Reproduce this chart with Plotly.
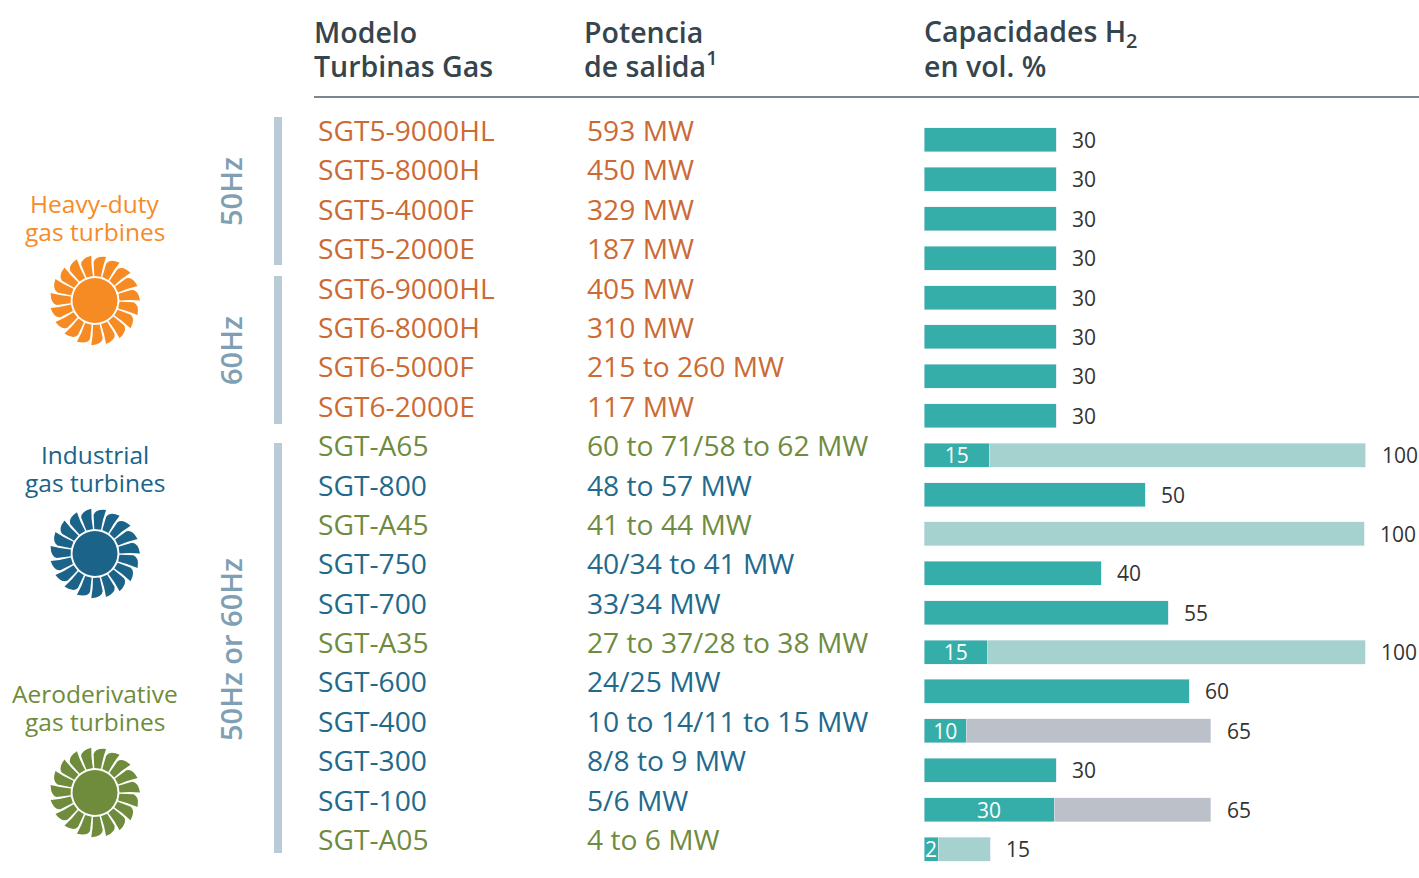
import math
import plotly.graph_objects as go

W, H = 1419, 878
models = ["SGT5-9000HL","SGT5-8000H","SGT5-4000F","SGT5-2000E","SGT6-9000HL","SGT6-8000H","SGT6-5000F","SGT6-2000E",
          "SGT-A65","SGT-800","SGT-A45","SGT-750","SGT-700","SGT-A35","SGT-600","SGT-400","SGT-300","SGT-100","SGT-A05"]
power = ["593 MW","450 MW","329 MW","187 MW","405 MW","310 MW","215 to 260 MW","117 MW",
         "60 to 71/58 to 62 MW","48 to 57 MW","41 to 44 MW","40/34 to 41 MW","33/34 MW","27 to 37/28 to 38 MW",
         "24/25 MW","10 to 14/11 to 15 MW","8/8 to 9 MW","5/6 MW","4 to 6 MW"]
kinds = ["h"]*8 + ["a","i","a","i","i","a","i","i","i","i","a"]
teal = [30,30,30,30,30,30,30,30,14.8,50.2,0,40.2,55.4,14.4,60.2,9.6,30,29.5,3.2]
light = [0,0,0,0,0,0,0,0,85.4,0,99.8,0,0,85.6,0,0,0,0,11.8]
grey = [0,0,0,0,0,0,0,0,0,0,0,0,0,0,0,55.4,0,35.5,0]
inner_labels = ["","","","","","","","","15","","","","","15","","10","","30","2"]
outer_labels = [30,30,30,30,30,30,30,30,100,50,100,40,55,100,60,65,30,65,15]

ORANGE_T, BLUE_T, GREEN_T = "#cc6a35", "#22698c", "#6f8b3f"
KCOL = {"h": ORANGE_T, "i": BLUE_T, "a": GREEN_T}
FONT = "Open Sans"
DARK = "#36454d"
TEAL, LIGHT, GREY = "#35aeaa", "#a5d1cf", "#bbc0c9"

def px(x): return x / W
def py(y): return 1 - y / H

row_top = 120.3; row_bot = 868.7
fig = go.Figure()
common = dict(y=models, orientation="h", hoverinfo="skip")
fig.add_bar(x=teal, marker_color=TEAL, text=inner_labels, textposition="inside", insidetextanchor="middle",
            textangle=0, constraintext="none", textfont=dict(color="white", size=21, family=FONT), **common)
fig.add_bar(x=light, marker_color=LIGHT, **common)
fig.add_bar(x=grey, marker_color=GREY, **common)

ann = []
def T(x, y, s, size, color, anchor="left", weight=None, angle=0):
    f = dict(family=FONT, size=size, color=color)
    if weight: f["weight"] = weight
    ann.append(dict(x=px(x), y=py(y), xref="paper", yref="paper", text=s, showarrow=False, xanchor=anchor,
                    yanchor="middle", font=f, textangle=angle, borderpad=0, borderwidth=0))

for i, m in enumerate(models):
    c = KCOL[kinds[i]]
    ann.append(dict(x=px(316), y=m, xref="paper", yref="y", yshift=10, text=m, showarrow=False, xanchor="left",
                    font=dict(family=FONT, size=28.2, color=c)))
    ann.append(dict(x=px(585), y=m, xref="paper", yref="y", yshift=10, text=power[i], showarrow=False, xanchor="left",
                    font=dict(family=FONT, size=28.2, color=c)))
    ann.append(dict(x=teal[i]+light[i]+grey[i], y=m, xref="x", yref="y", xshift=14, text=str(outer_labels[i]),
                    showarrow=False, xanchor="left", font=dict(family=FONT, size=21, color="#333333")))

T(314, 32, "Modelo", 28.5, DARK, weight=600)
T(314, 66, "Turbinas Gas", 28.5, DARK, weight=600)
T(584, 32, "Potencia", 28.5, DARK, weight=600)
T(584, 65, "de salida<sup>1</sup>", 28.5, DARK, weight=600)
T(924, 33, "Capacidades H<sub>2</sub>", 28.5, DARK, weight=600)
T(924, 66, "en vol. %", 28.5, DARK, weight=600)

T(95, 203, "Heavy-duty", 24.5, "#f68b2a", "center")
T(95, 231, "gas turbines", 24.5, "#f68b2a", "center")
T(95, 454, "Industrial", 24.5, "#1b6388", "center")
T(95, 482, "gas turbines", 24.5, "#1b6388", "center")
T(95, 693, "Aeroderivative", 24.5, "#6f8b3c", "center")
T(95, 721, "gas turbines", 24.5, "#6f8b3c", "center")

HZ = "#7fa0b4"
T(230, 192, "50Hz", 29, HZ, "center", weight=600, angle=-90)
T(230, 351, "60Hz", 29, HZ, "center", weight=600, angle=-90)
T(230, 650, "50Hz or 60Hz", 29, HZ, "center", weight=600, angle=-90)

shapes = [dict(type="line", xref="paper", yref="paper", x0=px(314), x1=1, y0=py(97), y1=py(97),
               line=dict(color="#4f5f66", width=1.5))]
for y0, y1 in [(117, 265), (276, 424), (443, 853)]:
    shapes.append(dict(type="rect", xref="paper", yref="paper", x0=px(274), x1=px(282), y0=py(y0), y1=py(y1),
                       fillcolor="#b9cbd6", line_width=0))

def turbine(cx, cy, color, n=19):
    out = []
    R = 22.5
    out.append(dict(type="circle", xref="paper", yref="paper", x0=px(cx-R), x1=px(cx+R), y0=py(cy+R), y1=py(cy-R),
                    fillcolor=color, line_width=0))
    step = 2*math.pi/n
    for k in range(n):
        t = k*step
        def P(r, a):
            return f"{px(cx+r*math.cos(t+a)):.5f},{py(cy+r*math.sin(t+a)):.5f}"
        path = ("M " + P(24.5, 0.0) + " Q " + P(35, -0.03) + " " + P(45, 0.0) +
                " Q " + P(44.5, -0.24) + " " + P(38.5, -0.285) +
                " L " + P(24.5, -0.275) + " Z")
        out.append(dict(type="path", xref="paper", yref="paper", path=path, fillcolor=color, line_width=0))
    return out

shapes += turbine(95, 300.5, "#f68b23")
shapes += turbine(95, 553.5, "#1b6388")
shapes += turbine(95, 792.5, "#6f8b3c")

fig.update_layout(
    width=W, height=H, barmode="stack", bargap=1-24/39.39, showlegend=False,
    margin=dict(l=0, r=0, t=0, b=0), paper_bgcolor="white", plot_bgcolor="white",
    xaxis=dict(domain=[px(924), 1], range=[0, (W-924)/4.41], visible=False),
    yaxis=dict(domain=[py(row_bot), py(row_top)], range=[18.5, -0.5], visible=False, type="category",
               categoryorder="array", categoryarray=models),
    annotations=ann, shapes=shapes,
)
fig.write_html("out.html", config={"displayModeBar": False},
               post_script="document.body.style.margin='0';document.documentElement.style.overflow='hidden';")
